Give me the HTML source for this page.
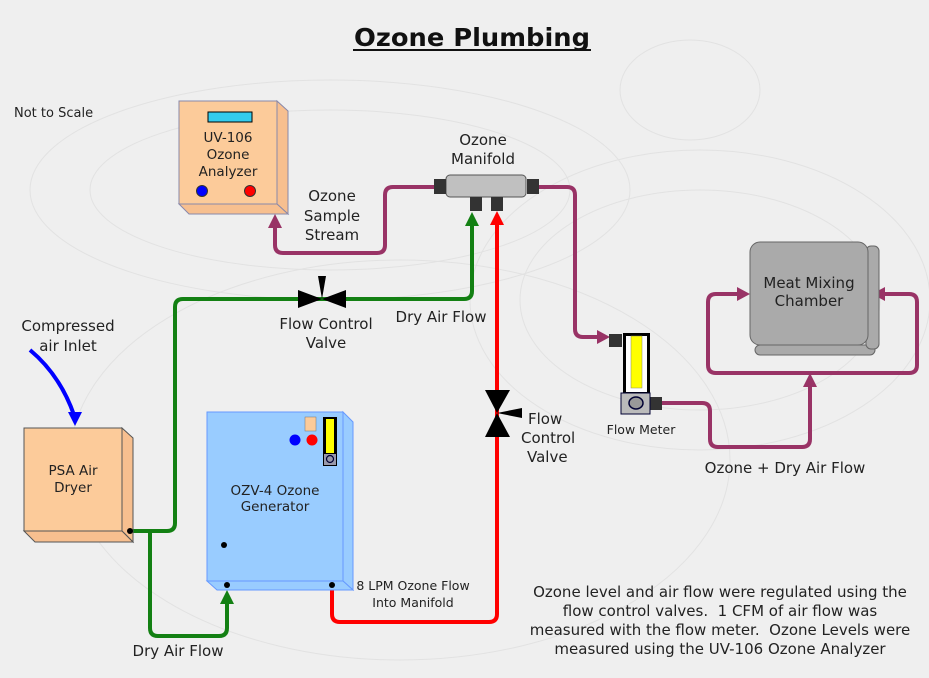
<!DOCTYPE html>
<html><head><meta charset="utf-8"><style>
html,body{margin:0;padding:0;background:#efefef;}
svg{display:block;font-family:"DejaVu Sans","Liberation Sans",sans-serif;}
</style></head><body>
<svg width="929" height="678" viewBox="0 0 929 678" xmlns="http://www.w3.org/2000/svg">
<rect width="929" height="678" fill="#efefef"/>
<g fill="none" stroke="#e2e2e2" stroke-width="1">
<ellipse cx="330" cy="190" rx="300" ry="110"/>
<ellipse cx="330" cy="190" rx="240" ry="80"/>
<ellipse cx="700" cy="300" rx="230" ry="150"/>
<ellipse cx="700" cy="300" rx="180" ry="110"/>
<ellipse cx="690" cy="90" rx="70" ry="50"/>
<ellipse cx="400" cy="460" rx="330" ry="200"/>
</g>
<text x="472" y="46" font-size="25" font-weight="bold" text-anchor="middle" fill="#111" textLength="236" lengthAdjust="spacingAndGlyphs">Ozone Plumbing</text>
<line x1="353" y1="50" x2="591" y2="50" stroke="#111" stroke-width="2"/>
<text x="14" y="117" font-size="13" fill="#222">Not to Scale</text>

<g fill="none" stroke-width="4" stroke-linejoin="round">
<path d="M434,187 H393 Q385,187 385,195 V245 Q385,253 377,253 H283 Q275,253 275,245 V225" stroke="#993366"/>
<path d="M539,187 H567 Q575,187 575,195 V329 Q575,337 583,337 H600" stroke="#993366"/>
<path d="M662,403 H702 Q710,403 710,411 V439 Q710,447 718,447 H802 Q810,447 810,439 V385" stroke="#993366"/>
<path d="M740,294 H716 Q708,294 708,302 V365 Q708,373 716,373 H909 Q917,373 917,365 V302 Q917,294 909,294 H884" stroke="#993366"/>
<path d="M130,531 H167 Q175,531 175,523 V307 Q175,299 183,299 H464 Q472,299 472,291 V224" stroke="#138013"/>
<path d="M150,531 V628 Q150,636 158,636 H219 Q227,636 227,628 V602" stroke="#138013"/>
<path d="M332,585 V614 Q332,622 340,622 H489 Q497,622 497,614 V223" stroke="#f00"/>
</g>
<polygon points="275,214 268,228 282,228" fill="#993366"/>
<polygon points="610,337 597,330 597,344" fill="#993366"/>
<polygon points="810,373 803,387 817,387" fill="#993366"/>
<polygon points="750,294 737,287 737,301" fill="#993366"/>
<polygon points="872,294 885,287 885,301" fill="#993366"/>
<polygon points="472,212 465,226 479,226" fill="#138013"/>
<polygon points="227,590 220,604 234,604" fill="#138013"/>
<polygon points="497,211 490,225 504,225" fill="#f00"/>
<path d="M30,350 Q60,375 74,415" fill="none" stroke="#00f" stroke-width="4"/>
<polygon points="75,426 68,412 82,412" fill="#00f"/>

<polygon points="298,290 322,299 298,308" fill="#000"/>
<polygon points="346,290 322,299 346,308" fill="#000"/>
<polygon points="318,276 326,276 322,299" fill="#000"/>
<polygon points="485,390 510,390 497,413" fill="#000"/>
<polygon points="485,437 510,437 497,413" fill="#000"/>
<polygon points="497,413 522,408 522,418" fill="#000"/>

<polygon points="277,101 288,111 288,214 277,204" fill="#f7bf8f" stroke="#8888aa" stroke-width="1"/>
<polygon points="179,204 277,204 288,214 189,214" fill="#f7bf8f" stroke="#8888aa" stroke-width="1"/>
<rect x="179" y="101" width="98" height="103" fill="#fccb9a" stroke="#8888aa"/>
<rect x="208" y="112" width="44" height="10" fill="#33ccee" stroke="#000"/>
<text x="228" y="142" font-size="13.5" text-anchor="middle" fill="#222">UV-106</text>
<text x="228" y="159" font-size="13.5" text-anchor="middle" fill="#222">Ozone</text>
<text x="228" y="176" font-size="13.5" text-anchor="middle" fill="#222">Analyzer</text>
<circle cx="202" cy="191" r="5.5" fill="#00f" stroke="#333"/>
<circle cx="250" cy="191" r="5.5" fill="#f00" stroke="#333"/>

<text x="483" y="145" font-size="15" text-anchor="middle" fill="#222">Ozone</text>
<text x="483" y="164" font-size="15" text-anchor="middle" fill="#222">Manifold</text>
<rect x="446" y="175" width="80" height="22" rx="4" fill="#c0c0c0" stroke="#555"/>
<rect x="434" y="179" width="12" height="15" fill="#333"/>
<rect x="527" y="179" width="12" height="15" fill="#333"/>
<rect x="470" y="197" width="12" height="14" fill="#333"/>
<rect x="491" y="197" width="12" height="14" fill="#333"/>
<text x="332" y="201" font-size="15" text-anchor="middle" fill="#222">Ozone</text>
<text x="332" y="221" font-size="15" text-anchor="middle" fill="#222">Sample</text>
<text x="332" y="240" font-size="15" text-anchor="middle" fill="#222">Stream</text>
<text x="326" y="329" font-size="15" text-anchor="middle" fill="#222">Flow Control</text>
<text x="326" y="348" font-size="15" text-anchor="middle" fill="#222">Valve</text>
<text x="441" y="322" font-size="15" text-anchor="middle" fill="#222">Dry Air Flow</text>
<text x="528" y="424" font-size="15" fill="#222">Flow</text>
<text x="521" y="443" font-size="15" fill="#222">Control</text>
<text x="527" y="462" font-size="15" fill="#222">Valve</text>

<rect x="609" y="334" width="13" height="13" fill="#333"/>
<rect x="650" y="397" width="12" height="13" fill="#333"/>
<rect x="623" y="333" width="27" height="81" fill="#000"/>
<rect x="626" y="336" width="21" height="56" fill="#fff"/>
<rect x="631" y="336" width="11" height="52" fill="#ff0" stroke="#886" stroke-width="0.5"/>
<rect x="621" y="393" width="29" height="21" fill="#bbb" stroke="#003"/>
<ellipse cx="636" cy="403" rx="7" ry="6" fill="#999" stroke="#003" stroke-width="1.5"/>
<text x="641" y="434" font-size="12.5" text-anchor="middle" fill="#222">Flow Meter</text>

<rect x="755" y="345" width="120" height="10" rx="5" fill="#aaa" stroke="#666"/>
<rect x="866" y="246" width="13" height="103" rx="5" fill="#aaa" stroke="#666"/>
<rect x="750" y="242" width="118" height="103" rx="10" fill="#aaa" stroke="#666"/>
<text x="809" y="288" font-size="15" text-anchor="middle" fill="#222">Meat Mixing</text>
<text x="809" y="306" font-size="15" text-anchor="middle" fill="#222">Chamber</text>
<text x="785" y="473" font-size="15" text-anchor="middle" fill="#222">Ozone + Dry Air Flow</text>

<text x="68" y="331" font-size="15" text-anchor="middle" fill="#222">Compressed</text>
<text x="68" y="351" font-size="15" text-anchor="middle" fill="#222">air Inlet</text>

<polygon points="122,428 133,438 133,542 122,531" fill="#f7bf8f" stroke="#555"/>
<polygon points="24,531 122,531 133,542 35,542" fill="#f7bf8f" stroke="#555"/>
<rect x="24" y="428" width="98" height="103" fill="#fccb9a" stroke="#555"/>
<text x="73" y="475" font-size="13.5" text-anchor="middle" fill="#222">PSA Air</text>
<text x="73" y="492" font-size="13.5" text-anchor="middle" fill="#222">Dryer</text>
<circle cx="130" cy="531" r="3" fill="#000"/>

<polygon points="343,412 353,422 353,590 343,581" fill="#99ccff" stroke="#6699ff"/>
<polygon points="207,581 343,581 353,590 217,590" fill="#99ccff" stroke="#6699ff"/>
<rect x="207" y="412" width="136" height="169" fill="#99ccff" stroke="#6699ff"/>
<rect x="305" y="417" width="11" height="14" fill="#fccb9a" stroke="#777" stroke-width="0.5"/>
<circle cx="295" cy="440" r="5.5" fill="#00f"/>
<circle cx="312" cy="440" r="5.5" fill="#f00"/>
<rect x="323" y="417" width="14" height="49" fill="#000"/>
<rect x="326" y="419" width="8" height="34" fill="#ff0"/>
<rect x="324" y="454" width="12" height="11" fill="#99a"/>
<circle cx="330" cy="459" r="3.5" fill="none" stroke="#003" stroke-width="1.2"/>
<text x="275" y="495" font-size="13.5" text-anchor="middle" fill="#222">OZV-4 Ozone</text>
<text x="275" y="511" font-size="13.5" text-anchor="middle" fill="#222">Generator</text>
<circle cx="224" cy="545" r="3" fill="#000"/>
<circle cx="227" cy="585" r="3" fill="#000"/>
<circle cx="332" cy="585" r="3" fill="#000"/>
<text x="413" y="590" font-size="12.5" text-anchor="middle" fill="#222">8 LPM Ozone Flow</text>
<text x="413" y="607" font-size="12.5" text-anchor="middle" fill="#222">Into Manifold</text>
<text x="178" y="656" font-size="15" text-anchor="middle" fill="#222">Dry Air Flow</text>

<g font-size="15" text-anchor="middle" fill="#222">
<text x="720" y="597">Ozone level and air flow were regulated using the</text>
<text x="720" y="616">flow control valves. &#160;1 CFM of air flow was</text>
<text x="720" y="635">measured with the flow meter. &#160;Ozone Levels were</text>
<text x="720" y="654">measured using the UV-106 Ozone Analyzer</text>
</g>
</svg>
</body></html>
